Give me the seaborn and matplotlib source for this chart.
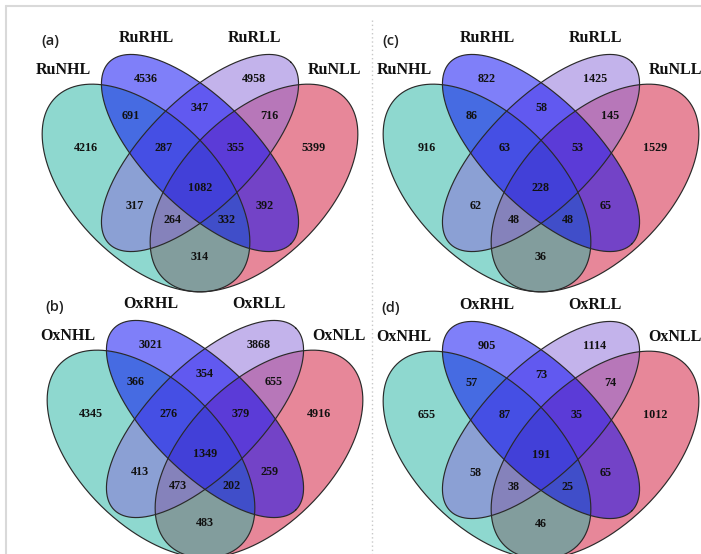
import numpy as np
import pandas as pd
import matplotlib
matplotlib.use("Agg")
import matplotlib.pyplot as plt
import seaborn as sns

# ---- data -------------------------------------------------------------
panel_tags = ["(a)", "(b)", "(c)", "(d)"]
ru_sets = ["RuNHL", "RuRHL", "RuRLL", "RuNLL"]
ox_sets = ["OxNHL", "OxRHL", "OxRLL", "OxNLL"]
# region order: A, B, C, D, AB, BC, CD, ABC, BCD, ABCD, AC, BD, ACD, ABD, AD
# (A = *NHL, B = *RHL, C = *RLL, D = *NLL)
region_keys = ["A", "B", "C", "D", "AB", "BC", "CD", "ABC", "BCD",
               "ABCD", "AC", "BD", "ACD", "ABD", "AD"]
counts_a = [4216, 4536, 4958, 5399, 691, 347, 716, 287, 355, 1082, 317, 392, 264, 332, 314]
counts_b = [4345, 3021, 3868, 4916, 366, 354, 655, 276, 379, 1349, 413, 259, 473, 202, 483]
counts_c = [916, 822, 1425, 1529, 86, 58, 145, 63, 53, 228, 62, 65, 48, 48, 36]
counts_d = [655, 905, 1114, 1012, 57, 73, 74, 87, 35, 191, 58, 65, 38, 25, 46]

# ---- style ------------------------------------------------------------
sns.set_theme(style="white")
plt.rcParams["font.family"] = ["Liberation Serif", "DejaVu Serif"]

set_colors = sns.color_palette(["#1fb3a1", "#0000f5", "#8969d9", "#d11135"])
edge_color = "#2a2a2a"

# label positions relative to the panel centre (pixels, y downwards)
region_offsets = {
    "A": (-114, -5), "B": (-54, -74), "C": (54, -74), "D": (114, -5),
    "AB": (-69, -37), "BC": (0, -45), "CD": (69, -37),
    "ABC": (-36, -5), "BCD": (36, -5), "ABCD": (0, 35),
    "AC": (-65, 53), "BD": (65, 53), "ACD": (-27, 67), "ABD": (27, 67),
    "AD": (0, 104),
}
set_label_offsets = [(-137, -83), (-54, -115), (54, -115), (134, -83)]
tag_offset = (-150, -112)

# ellipse geometry: (dx, dy, semi-major, semi-minor, tilt) ; tilt +1 = down-right
ellipse_specs = [
    (-54, 35, 128, 72, +1),   # A
    (0, 0, 128.5, 54, +1),    # B
    (0, 0, 128.5, 54, -1),    # C
    (54, 35, 128, 72, -1),    # D
]
draw_order = [3, 0, 2, 1]

panels = [
    (panel_tags[0], ru_sets, counts_a, (200, 153)),
    (panel_tags[1], ox_sets, counts_b, (205, 419)),
    (panel_tags[2], ru_sets, counts_c, (541, 153)),
    (panel_tags[3], ox_sets, counts_d, (541, 420)),
]


def ellipse_points(cx, cy, a, b, tilt, n=400):
    t = np.linspace(0, 2 * np.pi, n)
    s = 1 / np.sqrt(2)
    major = np.array([s, tilt * s])
    minor = np.array([s, -tilt * s])
    x = cx + a * np.cos(t) * major[0] + b * np.sin(t) * minor[0]
    y = cy + a * np.cos(t) * major[1] + b * np.sin(t) * minor[1]
    return x, y


fig = plt.figure(figsize=(7.01, 5.54), dpi=100)
ax = fig.add_axes([0, 0, 1, 1])

for tag, names, counts, (cx, cy) in panels:
    shapes = []
    for dx, dy, a, b, tilt in ellipse_specs:
        shapes.append(ellipse_points(cx + dx, cy + dy, a, b, tilt))
    for i in draw_order:
        x, y = shapes[i]
        ax.fill(x, y, color=set_colors[i], alpha=0.5, lw=0, zorder=1)
    for i in range(4):
        x, y = shapes[i]
        df = pd.DataFrame({"x": x, "y": y})
        sns.lineplot(data=df, x="x", y="y", sort=False, estimator=None,
                     color=edge_color, lw=0.85, ax=ax, zorder=2)
    for key, val in zip(region_keys, counts):
        ox, oy = region_offsets[key]
        ax.text(cx + ox, cy + oy, str(val), ha="center", va="center",
                fontsize=8.7, fontweight="bold", color="#111111", zorder=3)
    for name, (ox, oy) in zip(names, set_label_offsets):
        ax.text(cx + ox, cy + oy, name, ha="center", va="center",
                fontsize=11.5, fontweight="bold", color="#111111", zorder=3)
    ax.text(cx + tag_offset[0], cy + tag_offset[1], tag, ha="center",
            va="center", fontsize=10.5, fontweight="semibold",
            family=["Open Sans", "DejaVu Sans"], color="#222222", zorder=3)

# frame lines and panel separator
ax.plot([6, 701], [6, 6], color="#d9d9d9", lw=1.5, zorder=0)
ax.plot([6, 6], [6, 554], color="#d9d9d9", lw=1.5, zorder=0)
ax.plot([372, 372], [20, 554], color="#c8c8c8", lw=1.0, ls=(0, (1, 2)), zorder=0)

ax.set_xlim(0, 701)
ax.set_ylim(554, 0)
ax.axis("off")
fig.savefig("out.png", dpi=100)
